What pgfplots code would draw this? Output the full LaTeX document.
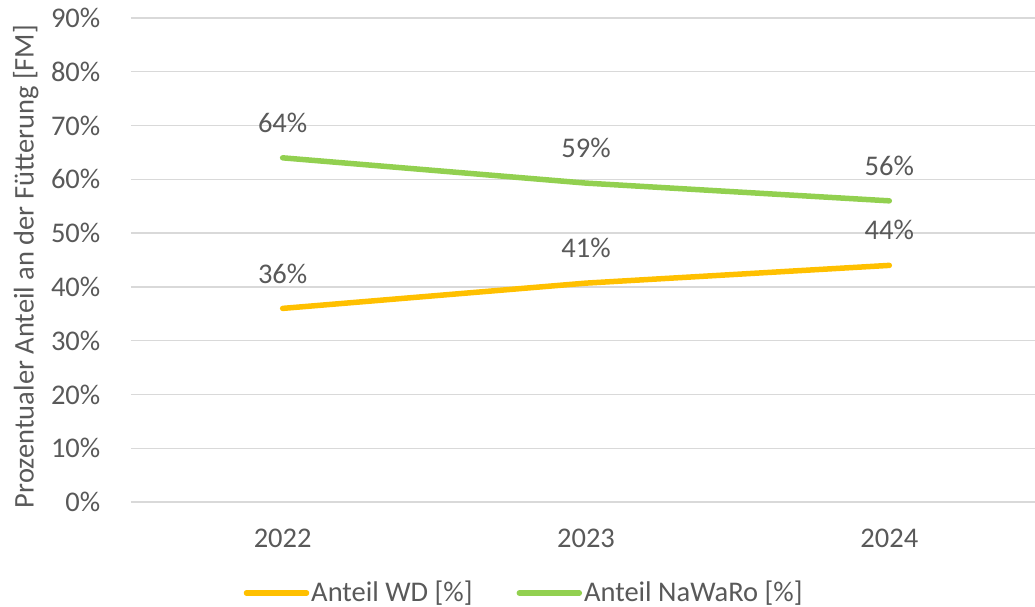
\documentclass[border=0pt]{standalone}
\usepackage{pgfplots}
\pgfplotsset{compat=1.18}
\usepackage{fontspec}
\setmainfont{Carlito}
\definecolor{txt}{HTML}{595959}
\definecolor{gridc}{HTML}{D9D9D9}
\definecolor{wd}{HTML}{FFC000}
\definecolor{nawaro}{HTML}{92D050}
\newcommand\fs{\fontsize{28.5}{34}\selectfont}
\begin{document}
\fs
\begin{tikzpicture}
\useasboundingbox (0pt,0pt) rectangle (1035pt,607pt);
\begin{axis}[
  at={(131pt,105pt)}, anchor=south west,
  scale only axis, width=910pt, height=484pt,
  xmin=-0.5, xmax=2.5, ymin=0, ymax=90,
  xtick={0,1,2}, xticklabels={2022,2023,2024},
  ytick={0,10,...,90},
  yticklabel={\pgfmathprintnumber{\tick}\%},
  /pgf/number format/assume math mode=true,
  axis line style={draw=none},
  major tick length=0pt,
  xmajorgrids=false,
  ymajorgrids=true, grid style={color=gridc, line width=1.3pt},
  tick label style={font=\fs, text=txt},
  yticklabel style={xshift=-21pt},
  xticklabel style={yshift=-17pt},
  ylabel={Prozentualer Anteil an der Fütterung [FM]},
  every axis y label/.style={at={(axis description cs:-0.1156,0.4866)}, rotate=90, anchor=center, font=\fs, text=txt},
  nodes near coords={\pgfmathprintnumber[fixed,precision=0]{\pgfplotspointmeta}\%},
  every node near coord/.append style={anchor=center, yshift=35pt, font=\fs, text=txt},
  legend columns=2,
  legend style={at={(rel axis cs:0.432,-0.188)}, anchor=center, draw=none, fill=none, font=\fs, text=txt,
    /tikz/every even column/.append style={column sep=42pt}},
  legend image code/.code={\draw[#1, line cap=round] (0pt,0pt) -- (60pt,0pt);},
]
\addplot[wd, line width=5.5pt, line cap=round, line join=round] coordinates {(0,36) (1,40.7) (2,44)};
\addlegendentry{Anteil WD [\%]}
\addplot[nawaro, line width=5.5pt, line cap=round, line join=round] coordinates {(0,64) (1,59.3) (2,56)};
\addlegendentry{Anteil NaWaRo [\%]}
\end{axis}
\end{tikzpicture}
\end{document}
